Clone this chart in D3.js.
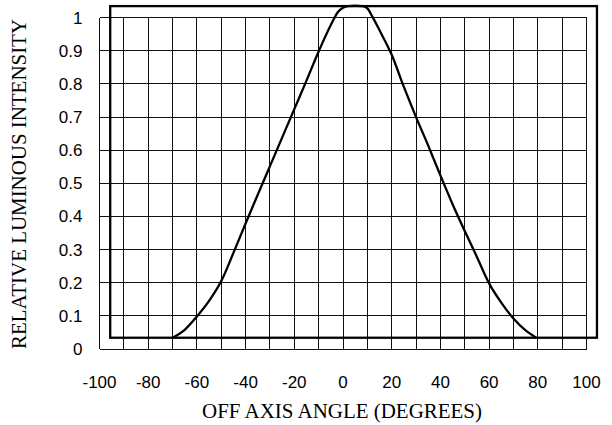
<!DOCTYPE html>
<html>
<head>
<meta charset="utf-8">
<script src="https://cdn.jsdelivr.net/npm/d3@7"></script>
<style>
  html, body { margin: 0; padding: 0; background: #fff; }
  svg { display: block; }
</style>
</head>
<body>
<svg id="chart" width="612" height="425"></svg>
<script>
// ---- data ----
const angles = [-70, -65, -60, -55, -50, -45, -40, -35, -30, -25, -20, -15, -10, -5, -2, 0, 2, 5, 8, 10, 12, 15, 20, 25, 30, 35, 40, 45, 50, 55, 60, 65, 70, 75, 79.3];
const intensity = [0.034, 0.058, 0.098, 0.145, 0.205, 0.29, 0.379, 0.466, 0.552, 0.638, 0.724, 0.81, 0.898, 0.978, 1.018, 1.03, 1.035, 1.036, 1.035, 1.028, 1.004, 0.962, 0.888, 0.791, 0.70, 0.614, 0.524, 0.437, 0.356, 0.278, 0.198, 0.14, 0.092, 0.056, 0.034];
const xTicks = [-100, -80, -60, -40, -20, 0, 20, 40, 60, 80, 100];
const yTicks = [0, 0.1, 0.2, 0.3, 0.4, 0.5, 0.6, 0.7, 0.8, 0.9, 1];
const xGrid = d3.range(-100, 101, 10);
const frameX = [-95.6, 104.3];
const frameY = [0.034, 1.035];
const xTitle = "OFF AXIS ANGLE (DEGREES)";
const yTitle = "RELATIVE LUMINOUS INTENSITY";

// ---- layout ----
const svg = d3.select("#chart");
const x = d3.scaleLinear().domain([-100, 100]).range([99.5, 586.5]);
const y = d3.scaleLinear().domain([0, 1]).range([349, 17.7]);

// grid
const grid = svg.append("g").attr("stroke", "#111").attr("stroke-width", 1).attr("shape-rendering", "crispEdges");
grid.selectAll("line.v").data(xGrid).join("line")
  .attr("x1", d => x(d)).attr("x2", d => x(d))
  .attr("y1", y(0)).attr("y2", y(1));
grid.selectAll("line.h").data(yTicks).join("line")
  .attr("x1", x(-100)).attr("x2", x(100))
  .attr("y1", d => y(d)).attr("y2", d => y(d));

// x tick labels
svg.append("g").selectAll("text").data(xTicks).join("text")
  .attr("x", d => x(d)).attr("y", 388)
  .attr("text-anchor", "middle")
  .attr("font-family", "Liberation Sans, Arial, sans-serif")
  .attr("font-size", 17)
  .text(d => d);

// y tick labels
svg.append("g").selectAll("text").data(yTicks).join("text")
  .attr("x", 82.5).attr("y", d => y(d) + 6)
  .attr("text-anchor", "end")
  .attr("font-family", "Liberation Sans, Arial, sans-serif")
  .attr("font-size", 17)
  .text(d => d3.format("~g")(d));

// frame (offset box)
svg.append("rect")
  .attr("x", x(frameX[0])).attr("y", y(frameY[1]))
  .attr("width", x(frameX[1]) - x(frameX[0]))
  .attr("height", y(frameY[0]) - y(frameY[1]))
  .attr("fill", "none").attr("stroke", "#000").attr("stroke-width", 2.3);

// curve
const pts = angles.map((a, i) => [a, intensity[i]]);
svg.append("path")
  .datum(pts)
  .attr("d", d3.line().x(d => x(d[0])).y(d => y(d[1])).curve(d3.curveMonotoneX))
  .attr("fill", "none").attr("stroke", "#000").attr("stroke-width", 2.3)
  .attr("stroke-linejoin", "round");

// axis titles
svg.append("text")
  .attr("x", 342).attr("y", 418)
  .attr("text-anchor", "middle")
  .attr("font-family", "Liberation Serif, Times New Roman, serif")
  .attr("font-size", 20)
  .attr("textLength", 280).attr("lengthAdjust", "spacingAndGlyphs")
  .text(xTitle);

svg.append("text")
  .attr("transform", "translate(26,184) rotate(-90)")
  .attr("text-anchor", "middle")
  .attr("font-family", "Liberation Serif, Times New Roman, serif")
  .attr("font-size", 20)
  .attr("textLength", 330).attr("lengthAdjust", "spacingAndGlyphs")
  .text(yTitle);
</script>
</body>
</html>
